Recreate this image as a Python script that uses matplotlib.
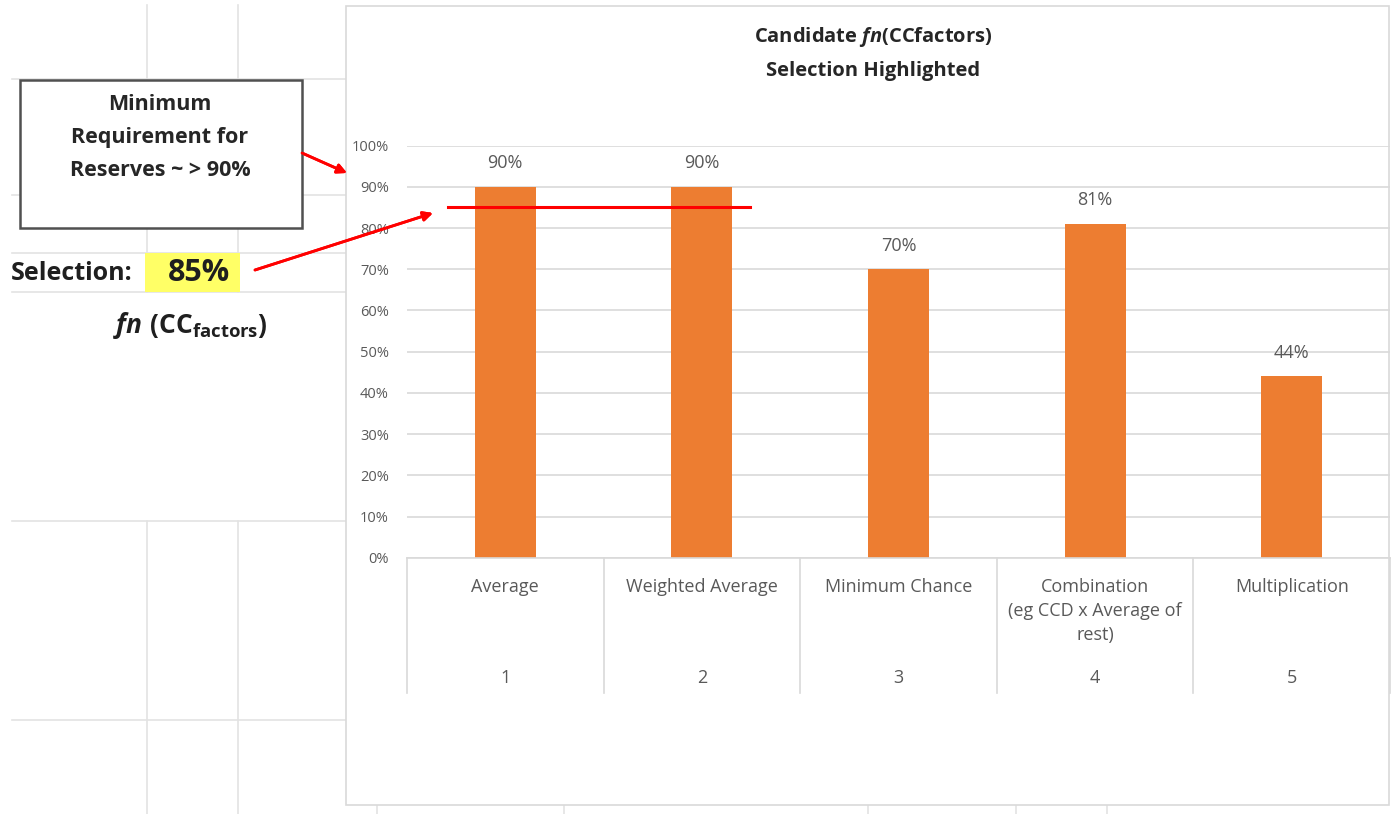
import matplotlib
matplotlib.use("Agg")
import matplotlib.pyplot as plt
from matplotlib.lines import Line2D
from matplotlib.patches import Rectangle

# ---------------- data ----------------
categories = ["Average", "Weighted Average", "Minimum Chance",
              "Combination\n(eg CCD x Average of\nrest)", "Multiplication"]
numbers = ["1", "2", "3", "4", "5"]
values = [0.90, 0.90, 0.70, 0.81, 0.44]
yticks = [0.0, 0.1, 0.2, 0.3, 0.4, 0.5, 0.6, 0.7, 0.8, 0.9, 1.0]
selection = 0.85

W, H = 1391, 814
FONT = ["Open Sans", "DejaVu Sans"]
plt.rcParams['font.family'] = FONT
plt.rcParams['mathtext.fontset'] = 'custom'
plt.rcParams['mathtext.it'] = 'Open Sans:italic:bold'
plt.rcParams['mathtext.rm'] = 'Open Sans:bold'
plt.rcParams['mathtext.bf'] = 'Open Sans:bold'

fig = plt.figure(figsize=(W / 100, H / 100), dpi=100)
fig.patch.set_facecolor("white")


def fx(x):
    return x / W


def fy(y):
    return 1 - y / H


GRID = "#E3E3E3"


def sheet_line(x0, y0, x1, y1):
    fig.add_artist(Line2D([fx(x0), fx(x1)], [fy(y0), fy(y1)], color=GRID,
                          lw=1.2, transform=fig.transFigure, zorder=0))


# spreadsheet background grid
for yy in [79, 195, 253, 292, 521, 720]:
    sheet_line(12, yy, 346, yy)
for xx in [147, 238]:
    sheet_line(xx, 5, xx, 292)
    sheet_line(xx, 521, xx, 814)
for xx in [377, 564, 868, 1016, 1107]:
    sheet_line(xx, 805, xx, 814)

# chart box
fig.add_artist(Rectangle((fx(346), fy(805)), fx(1389) - fx(346), fy(6) - fy(805),
                         transform=fig.transFigure, facecolor="white",
                         edgecolor="#D9D9D9", lw=1.2, zorder=1))

# axes
ax_l, ax_r, ax_t, ax_b = 407, 1390, 145.7, 557.7
ax = fig.add_axes([fx(ax_l), fy(ax_b), fx(ax_r) - fx(ax_l), fy(ax_t) - fy(ax_b)])
ax.set_zorder(2)
ax.patch.set_alpha(0)
xpos = list(range(len(values)))
ax.bar(xpos, values, width=0.31, color="#ED7D31", zorder=3)
ax.set_xlim(-0.5, len(values) - 0.5)
ax.set_ylim(0, 1)
ax.set_yticks(yticks)
ax.set_yticklabels([f"{v:.0%}" for v in yticks])
ax.tick_params(axis='y', length=0, pad=13, labelsize=10.5, labelcolor="#595959")
ax.set_xticks([])
for s in ax.spines.values():
    s.set_visible(False)
ax.grid(axis='y', color="#D9D9D9", lw=1.2, zorder=0)
ax.set_axisbelow(True)

for x, v in zip(xpos, values):
    ax.annotate(f"{v:.0%}", (x, v), xytext=(0, 17), textcoords="offset points",
                ha="center", va="center", fontsize=13, color="#595959")

# category axis table
def ay(y):
    return (ax_b - y) / (ax_b - ax_t)

tr = ax.get_xaxis_transform()
ax.plot([-0.5, len(values) - 0.5], [0, 0], color="#D9D9D9", lw=1.2,
        transform=tr, clip_on=False, zorder=4)
for b in [i - 0.5 for i in range(len(values) + 1)]:
    ax.plot([b, b], [0, ay(693)], color="#D9D9D9", lw=1.2, transform=tr,
            clip_on=False)
for x, c, n in zip(xpos, categories, numbers):
    ax.text(x, ay(578), c, transform=tr, ha="center", va="top", fontsize=13,
            color="#595959", linespacing=1.42)
    ax.text(x, ay(678), n, transform=tr, ha="center", va="center", fontsize=13,
            color="#595959")

# selection line
ax.plot([-0.29, 1.245], [selection, selection], color="#FF0000", lw=2.2,
        zorder=5, clip_on=False)

# title
fig.text(fx(873), fy(37), r"Candidate $fn$(CCfactors)", ha="center", va="center",
         fontsize=14.5, fontweight="bold", color="#262626")
fig.text(fx(873), fy(71), "Selection Highlighted", ha="center", va="center",
         fontsize=14.5, fontweight="bold", color="#262626")

# requirement box
fig.add_artist(Rectangle((fx(20), fy(228)), fx(302) - fx(20), fy(80) - fy(228),
                         transform=fig.transFigure, facecolor="white",
                         edgecolor="#505050", lw=1.8, zorder=3))
for txt, yy in [("Minimum", 104), ("Requirement for", 137), ("Reserves ~ > 90%", 171)]:
    fig.text(fx(160), fy(yy), txt, ha="center", va="center", fontsize=15.5,
             fontweight="bold", color="#262626", zorder=4)

# selection text
fig.add_artist(Rectangle((fx(145), fy(292)), fx(240) - fx(145), fy(253) - fy(292),
                         transform=fig.transFigure, facecolor="#FFFF66",
                         edgecolor="none", zorder=3))
fig.text(fx(11), fy(273), "Selection:", ha="left", va="center", fontsize=18,
         fontweight="bold", color="#1F1F1F", zorder=4)
fig.text(fx(199), fy(273), f"{selection:.0%}", ha="center", va="center",
         fontsize=22, fontweight="bold", color="#1F1F1F", zorder=4)
fig.text(fx(190), fy(326), r"$fn\ \mathrm{(CC_{factors})}$", ha="center",
         va="center", fontsize=19, color="#1F1F1F", zorder=4)

# arrows
arrow_kw = dict(arrowstyle="-|>", color="#FF0000", lw=2, mutation_scale=14,
                shrinkA=0, shrinkB=0)
fig.add_artist(plt.annotate("", xy=(347, H - 173), xytext=(302, H - 153),
                            xycoords="figure pixels", textcoords="figure pixels",
                            arrowprops=arrow_kw, annotation_clip=False))
fig.add_artist(plt.annotate("", xy=(433, H - 213), xytext=(255, H - 270),
                            xycoords="figure pixels", textcoords="figure pixels",
                            arrowprops=arrow_kw, annotation_clip=False))

fig.savefig("out.png", dpi=100)
